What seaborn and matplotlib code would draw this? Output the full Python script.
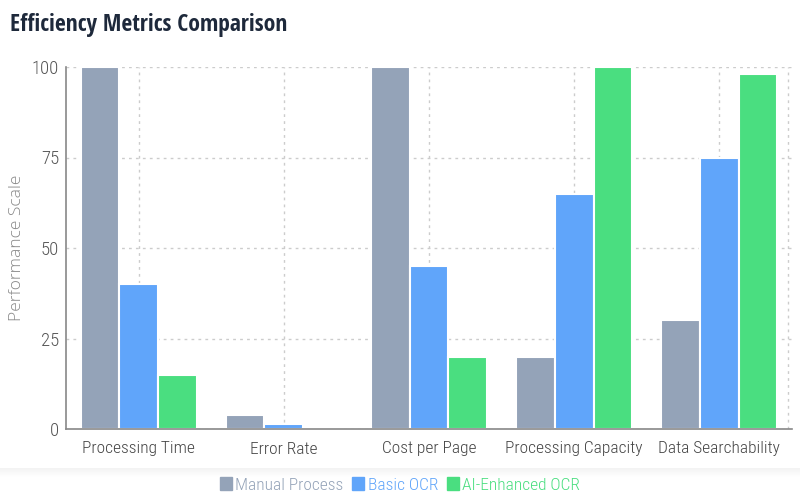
import numpy as np
import pandas as pd
import matplotlib
matplotlib.use("Agg")
import matplotlib.pyplot as plt
from matplotlib import font_manager
import seaborn as sns

categories = ["Processing Time", "Error Rate", "Cost per Page", "Processing Capacity", "Data Searchability"]
manual = [100, 4, 100, 20, 30]
basic = [40, 1.5, 45, 65, 75]
ai = [15, 0.3, 20, 100, 98]
series_names = ["Manual Process", "Basic OCR", "AI-Enhanced OCR"]
colors = ["#94a3b8", "#60a5fa", "#4ade80"]
yticks = [0, 25, 50, 75, 100]

df = pd.DataFrame({
    "Metric": categories * 3,
    "Value": manual + basic + ai,
    "Series": [series_names[0]] * 5 + [series_names[1]] * 5 + [series_names[2]] * 5,
})

sns.set_theme(style="white")
names = {f.name for f in font_manager.fontManager.ttflist}
cond = [n for n in ["Roboto Condensed", "PT Sans Narrow", "Open Sans Condensed"] if n in names]
title_fam = [n for n in ["Open Sans Condensed", "Roboto Condensed"] if n in names] + ["DejaVu Sans"]
plt.rcParams["font.family"] = cond + ["DejaVu Sans"]
plt.rcParams["font.weight"] = "light"

fig = plt.figure(figsize=(8, 5), dpi=100)
ax = fig.add_axes([0.0825, 0.142, 0.9075, 0.724])

sns.barplot(data=df, x="Metric", y="Value", hue="Series", palette=colors,
            order=categories, hue_order=series_names, width=0.8, ax=ax,
            edgecolor="white", linewidth=1.5, saturation=1, legend=False)

ax.set_ylim(0, 100)
ax.set_xlim(-0.5, 4.5)
ax.set_yticks(yticks)
ax.set_yticklabels([str(t) for t in yticks], fontsize=13.5, color="#555555", fontweight="light")
ax.set_xticks(range(len(categories)))
ax.set_xticklabels(categories, fontsize=12.5, color="#444444", fontweight="light")
ax.tick_params(axis="x", length=5, color="#777777", pad=4)
ax.tick_params(axis="y", length=4, color="#777777", pad=1)
ax.set_xlabel("")
ax.set_ylabel("Performance Scale", fontsize=12.5, color="#888888",
              family=["Open Sans", "DejaVu Sans"], fontweight="light")
ax.yaxis.set_label_coords(-0.056, 0.5)

for s in ["top", "right"]:
    ax.spines[s].set_visible(False)
for s in ["left", "bottom"]:
    ax.spines[s].set_color("#888888")
    ax.spines[s].set_linewidth(1.2)

ax.grid(True, axis="both", linestyle=(0, (2, 3)), color="#cccccc", linewidth=1)
ax.set_axisbelow(True)
ax.axvline(4.47, color="#cccccc", linestyle=(0, (2, 3)), linewidth=1)

fig.text(0.012, 0.95, "Efficiency Metrics Comparison", fontsize=17, fontweight="bold",
         family=title_fam, color="#1e293b", ha="left", va="center")

# shadow band
grad = np.linspace(0.12, 0.0, 50).reshape(-1, 1)
sax = fig.add_axes([0.0, 0.045, 1.0, 0.02])
sax.imshow(np.dstack([np.full((50, 1), 0.55)] * 3 + [grad]), aspect="auto", extent=[0, 1, 0, 1])
sax.axis("off")

# legend
handles = [plt.Rectangle((0, 0), 1, 1, color=c) for c in colors]
leg = fig.legend(handles, series_names, loc="center", bbox_to_anchor=(0.5, 0.03), ncol=3,
                 frameon=False, prop={"size": 12.5, "weight": "light"}, handlelength=0.7,
                 handleheight=0.8, handletextpad=0.2, columnspacing=0.5)
for t, c in zip(leg.get_texts(), colors):
    t.set_color(c)

fig.savefig("out.png", dpi=100)
